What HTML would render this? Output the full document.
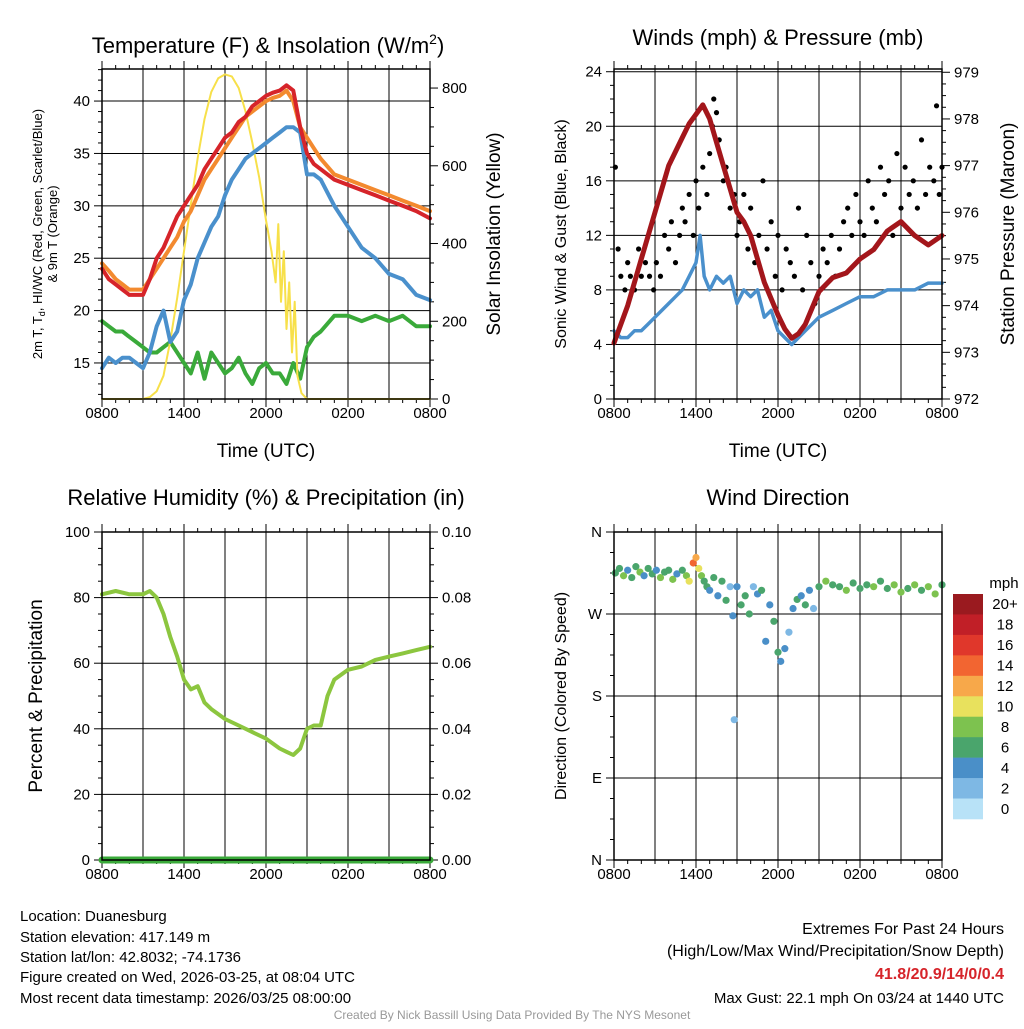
<!DOCTYPE html>
<html><head><meta charset="utf-8"><style>
body{margin:0;background:#fff;width:1024px;height:1024px;overflow:hidden;font-family:"Liberation Sans",sans-serif}
svg text{font-family:"Liberation Sans",sans-serif}
</style></head><body>
<svg id="s" width="1024" height="1024" xmlns="http://www.w3.org/2000/svg"></svg>
<script>
const xTickLabels=["0800","1400","2000","0200","0800"];
const tHours=[0,0.5,1,1.5,2,2.5,3,3.5,4,4.5,5,5.5,6,6.5,7,7.5,8,8.5,9,9.5,10,10.5,11,11.5,12,12.5,13,13.5,14,14.5,15,15.5,16,17,18,19,20,21,22,23,24];
const tempRed=[24,23,22.5,22,21.5,21.5,21.5,23,25,26,27.5,29,30,31,32,33.5,34.5,35.5,36.5,37,38,38.5,39.5,40,40.5,40.8,41,41.5,41,37.5,35,34,33.5,32.5,32,31.5,31,30.5,30,29.5,28.8];
const tempOrange=[24.5,23.8,23,22.5,22,22,22,23,24,25,26,27,28.5,29.5,31,32.5,33.5,34.5,35.5,36.5,37.5,38.5,39,39.5,40,40.3,40.5,41,40,37.5,36.5,35.5,34.5,33,32.5,32,31.5,31,30.5,30,29.5];
const tempDew=[14.5,15.5,15,15.5,15.5,15,14.5,16,18.5,20,17,18,21,22.5,25,26.5,28,29,31,32.5,33.5,34.5,35,35.5,36,36.5,37,37.5,37.5,37,33,33,32.5,30,28,26,25,23.5,23,21.5,21];
const tempHI=[19,18.5,18,18,17.5,17,16.5,16,16,16.5,17,16,15,14,16,13.5,16,15,14,14.5,15.5,14,13,14.5,15,14,14,13,15,13.5,16.5,17.5,18,19.5,19.5,19,19.5,19,19.5,18.5,18.5];
const solarHours=[0,3,3.5,4,4.5,5,5.5,6,6.5,7,7.5,8,8.5,9,9.5,10,10.5,11,11.5,12,12.4,12.7,12.9,13.1,13.3,13.5,13.7,13.9,14.1,14.3,14.6,15,24];
const solarVals=[0,0,5,20,60,150,260,380,500,620,720,790,825,835,830,800,740,660,570,460,380,300,450,250,380,180,300,120,250,60,15,0,0];
const windHours=[0,0.5,1,1.5,2,2.5,3,3.5,4,4.5,5,5.5,6,6.3,6.6,7,7.5,8,8.5,9,9.5,10,10.5,11,11.5,12,12.5,13,13.5,14,14.5,15,16,17,18,19,20,21,22,23,24];
const windSpd=[5,4.5,4.5,5,5,5.5,6,6.5,7,7.5,8,9,10,12,9,8,9,8.5,9,7,8,7.5,8,6,6.5,5,4.5,4,4.5,5,5.5,6,6.5,7,7.5,7.5,8,8,8,8.5,8.5];
const gustHours=[0.1,0.3,0.5,0.8,1,1.2,1.5,1.8,2,2.3,2.6,2.9,3.1,3.4,3.7,4,4.2,4.5,4.8,5,5.2,5.5,5.8,6,6.2,6.5,6.8,7,7.2,7.3,7.5,7.7,8,8.2,8.5,8.8,9,9.2,9.5,9.8,10,10.3,10.6,10.9,11.2,11.5,11.8,12,12.3,12.6,12.9,13.2,13.5,13.8,14.1,14.4,14.7,15,15.3,15.6,15.9,16.2,16.5,16.8,17.1,17.4,17.7,18,18.3,18.6,18.9,19.2,19.5,19.8,20.1,20.4,20.7,21,21.3,21.6,21.9,22.2,22.5,22.8,23.1,23.4,23.6,23.8,24];
const gustVals=[17,11,9,8,10,9,8,11,9,10,9,8,10,9,12,11,13,10,12,14,13,15,12,16,14,17,15,18,20,22,21,19,16,17,14,15,12,13,15,11,14,10,12,16,11,13,9,12,8,11,10,9,14,8,12,10,7,9,11,10,12,9,11,13,14,12,15,13,12,16,14,13,17,15,16,12,18,14,17,15,16,14,19,15,17,16,21.5,15,17];
const presHours=[0,1,2,3,4,5,5.5,6,6.5,7,7.5,8,8.5,9,9.5,10,11,12,12.5,13,13.5,14,15,16,17,18,19,20,21,22,23,24];
const presVals=[973.2,974,975,976,977,977.6,977.9,978.1,978.3,978,977.5,977,976.5,976,975.8,975.5,974.5,973.8,973.5,973.3,973.4,973.6,974.3,974.6,974.7,975,975.2,975.6,975.8,975.5,975.3,975.5];
const rhHours=[0,1,2,3,3.5,4,4.5,5,5.5,6,6.5,7,7.5,8,9,10,11,12,13,13.5,14,14.5,15,15.5,16,16.5,17,18,19,20,21,22,23,24];
const rhVals=[81,82,81,81,82,80,75,68,62,55,52,53,48,46,43,41,39,37,34,33,32,34,40,41,41,50,55,58,59,61,62,63,64,65];
const precipVals=[0,0];
const dirHours=[0.1,0.4,0.7,1,1.3,1.6,1.9,2.2,2.5,2.8,3.1,3.4,3.7,4,4.3,4.6,5,5.3,5.5,5.8,6,6.2,6.4,6.6,6.8,7,7.3,7.6,7.9,8.2,8.5,8.7,8.8,9,9.3,9.6,9.9,10.2,10.5,10.8,11.1,11.4,11.7,12,12.2,12.5,12.8,13.1,13.4,13.7,14,14.3,14.6,15,15.5,16,16.5,17,17.5,18,18.5,19,19.5,20,20.5,21,21.5,22,22.5,23,23.5,24];
const dirDeg=[315,320,312,318,310,322,316,312,320,314,318,310,316,318,308,314,318,312,306,326,332,320,312,306,300,296,310,290,306,285,300,268,154,300,280,290,270,300,292,296,240,280,262,228,218,232,250,276,286,290,280,296,276,300,306,302,300,296,304,298,302,300,306,298,302,294,298,302,296,300,292,302];
const dirSpd=[6,7,8,5,7,6,8,4,6,7,5,9,6,7,8,4,6,9,11,14,12,10,8,7,6,5,7,4,6,6,3,5,2,4,7,6,7,3,5,6,4,5,7,6,5,4,3,5,6,4,7,5,3,6,8,7,6,8,7,6,7,8,7,6,8,9,7,8,7,8,8,7];
const cbLabels=["20+","18","16","14","12","10","8","6","4","2","0"];
const cbColors=["#9a1a1f","#c11f27","#e0372b","#f26531","#f7a84a","#e8e15d","#7dc24f","#4aa56c","#4a8fc8","#7eb8e4","#b8e2f7"];

const S=document.getElementById('s');const NS="http://www.w3.org/2000/svg";
function el(t,a,p){const e=document.createElementNS(NS,t);for(const k in a)e.setAttribute(k,a[k]);(p||S).appendChild(e);return e;}
function txt(x,y,s,size,anchor,extra){const e=el('text',Object.assign({x:x,y:y,'font-size':size,'text-anchor':anchor||'middle',fill:'#000'},extra||{}));e.textContent=s;return e;}
function panel(L,T,W,H,name){
 const g=el('g',{});
 const xs=h=>L+h/24*W;
 for(let i=1;i<8;i++){const x=xs(i*3);el('line',{x1:x,y1:T,x2:x,y2:T+H,stroke:'#000','stroke-width':1},g);}
 for(let i=0;i<=24;i++){const x=xs(i);const len=(i%6==0)?8:4;el('line',{x1:x,y1:T+H,x2:x,y2:T+H+len,stroke:'#000'},g);el('line',{x1:x,y1:T,x2:x,y2:T-len,stroke:'#000'},g);}
 xTickLabels.forEach((l,i)=>{const t=txt(xs(i*6),T+H+19,l,15);});
 return {g,xs};
}
function yaxis(g,L,T,W,H,min,max,major,minor,labels,side,grid){
 const ys=v=>T+H-(v-min)/(max-min)*H;
 const x0=side=='l'?L:L+W,d=side=='l'?-1:1;
 for(let v=Math.ceil(min/minor)*minor;v<=max+1e-9;v+=minor){const isM=Math.abs(v/major-Math.round(v/major))<1e-6;el('line',{x1:x0,y1:ys(v),x2:x0+d*(isM?8:4),y2:ys(v),stroke:'#000'},g);}
 labels.forEach(l=>{const y=ys(l.v);if(grid)el('line',{x1:L,y1:y,x2:L+W,y2:y,stroke:'#000'},g);const t=txt(x0+d*12,y+5,l.s,15,side=='l'?'end':'start');});
 return ys;
}
function poly(g,xs,ys,hs,vs,color,w,name){const p=hs.map((h,i)=>xs(h).toFixed(1)+','+ys(vs[i]).toFixed(1)).join(' ');const e=el('polyline',{points:p,fill:'none',stroke:color,'stroke-width':w,'stroke-linejoin':'round','stroke-linecap':'round'},g);return e;}
function frame(g,L,T,W,H){el('rect',{x:L,y:T,width:W,height:H,fill:'none',stroke:'#000','stroke-width':1.5},g);}

// Panel 1
(function(){const L=102,T=69,W=328,H=330;const {g,xs}=panel(L,T,W,H,'temperature-panel');
 const ys=yaxis(g,L,T,W,H,11.56,43.06,5,1,[15,20,25,30,35,40].map(v=>({v,s:v})),'l',true);
 const ys2=yaxis(g,L,T,W,H,0,849,200,50,[0,200,400,600,800].map(v=>({v,s:v})),'r',false);
 poly(g,xs,ys,tHours,tempHI,'#3aaa3a',4,'heat-index-line');
 poly(g,xs,ys2,solarHours,solarVals,'#f7e04a',2,'solar-insolation-line');
 poly(g,xs,ys,tHours,tempDew,'#4a90cc',4,'dewpoint-line');
 poly(g,xs,ys,tHours,tempOrange,'#f38a2f',4,'9m-temperature-line');
 poly(g,xs,ys,tHours,tempRed,'#d6242a',4,'2m-temperature-line');
 frame(g,L,T,W,H);
 const t=txt(268,53,'Temperature (F) & Insolation (W/m',22);const ts=el('tspan',{'font-size':14,dy:-9},t);ts.textContent='2';const t2=el('tspan',{dy:9},t);t2.textContent=')';
 const a=txt(266,457,'Time (UTC)',19);
 const yl=el('text',{transform:'translate(42,234) rotate(-90)','text-anchor':'middle','font-size':13});yl.innerHTML='<tspan x="0" dy="0">2m T, T<tspan font-size="9" dy="3">d</tspan><tspan dy="-3">, HI/WC (Red, Green, Scarlet/Blue)</tspan></tspan><tspan x="0" dy="15">&amp; 9m T (Orange)</tspan>';
 const yr=el('text',{transform:'translate(500,234) rotate(-90)','text-anchor':'middle','font-size':19});yr.textContent='Solar Insolation (Yellow)';
})();
// Panel 2
(function(){const L=614,T=69,W=328,H=330;const {g,xs}=panel(L,T,W,H,'winds-panel');
 const ys=yaxis(g,L,T,W,H,0,24.2,4,1,[0,4,8,12,16,20,24].map(v=>({v,s:v})),'l',true);
 const ys2=yaxis(g,L,T,W,H,972,979.07,1,0.25,[972,973,974,975,976,977,978,979].map(v=>({v,s:v})),'r',false);
 poly(g,xs,ys,windHours,windSpd,'#4a90cc',3.5,'sustained-wind-line');
 gustHours.forEach((h,i)=>{const c=el('circle',{cx:xs(h),cy:ys(gustVals[i]),r:2.6,fill:'#000'},g);});
 poly(g,xs,ys2,presHours,presVals,'#a3161b',5,'pressure-line');
 frame(g,L,T,W,H);
 const t=txt(778,45,'Winds (mph) & Pressure (mb)',22);
 const a=txt(778,457,'Time (UTC)',19);
 const yl=el('text',{transform:'translate(566,234) rotate(-90)','text-anchor':'middle','font-size':16});yl.textContent='Sonic Wind & Gust (Blue, Black)';
 const yr=el('text',{transform:'translate(1014,234) rotate(-90)','text-anchor':'middle','font-size':19});yr.textContent='Station Pressure (Maroon)';
})();
// Panel 3
(function(){const L=102,T=532,W=328,H=328;const {g,xs}=panel(L,T,W,H,'humidity-panel');
 const ys=yaxis(g,L,T,W,H,0,100,20,5,[0,20,40,60,80,100].map(v=>({v,s:v})),'l',true);
 const ys2=yaxis(g,L,T,W,H,0,0.1,0.02,0.005,[0,0.02,0.04,0.06,0.08,0.1].map(v=>({v,s:v.toFixed(2)})),'r',false);
 poly(g,xs,ys,rhHours,rhVals,'#8cc63f',4,'relative-humidity-line');
 poly(g,xs,ys2,[0,24],precipVals,'#3aaa3a',7,'precipitation-line');
 frame(g,L,T,W,H);
 const t=txt(266,505,'Relative Humidity (%) & Precipitation (in)',22);
 const yl=el('text',{transform:'translate(42,696) rotate(-90)','text-anchor':'middle','font-size':19});yl.textContent='Percent & Precipitation';
})();
// Panel 4
(function(){const L=614,T=532,W=328,H=328;const {g,xs}=panel(L,T,W,H,'wind-direction-panel');
 const ys=v=>T+(360-v)/360*H;
 ["N","W","S","E","N"].forEach((s,i)=>{const y=T+i*H/4;if(i>0&&i<4)el('line',{x1:L,y1:y,x2:L+W,y2:y,stroke:'#000'},g);el('line',{x1:L,y1:y,x2:L-8,y2:y,stroke:'#000'},g);const t=txt(L-12,y+5,s,15,'end');});
 for(let i=0;i<=16;i++){const y=T+i*H/16;el('line',{x1:L,y1:y,x2:L-4,y2:y,stroke:'#000'},g);}
 const col=s=>cbColors[10-Math.min(10,Math.floor(s/2))];
 dirHours.forEach((h,i)=>{const c=el('circle',{cx:xs(h),cy:ys(dirDeg[i]),r:3.6,fill:col(dirSpd[i])},g);});
 frame(g,L,T,W,H);
 const t=txt(778,505,'Wind Direction',22);
 const yl=el('text',{transform:'translate(566,696) rotate(-90)','text-anchor':'middle','font-size':16});yl.textContent='Direction (Colored By Speed)';
 const cb=el('g',{},S);
 const h=225/11;cbColors.forEach((c,i)=>{el('rect',{x:953,y:594+i*h,width:30,height:h+0.3,fill:c},cb);txt(1005,594+i*h+h/2+5,cbLabels[i],15,'middle');});
 txt(1004,588,'mph',15);
})();
// Footer
[['Location: Duanesburg',921],['Station elevation: 417.149 m',942],['Station lat/lon: 42.8032; -74.1736',962],['Figure created on Wed, 2026-03-25, at 08:04 UTC',982],['Most recent data timestamp: 2026/03/25 08:00:00',1003]].forEach(a=>{const t=txt(20,a[1],a[0],15,'start');});
[['Extremes For Past 24 Hours',934],['(High/Low/Max Wind/Precipitation/Snow Depth)',956]].forEach(a=>{const t=txt(1004,a[1],a[0],16,'end');});
const ex=txt(1004,979,'41.8/20.9/14/0/0.4',16,'end',{fill:'#d6242a','font-weight':'bold'});
const mg=txt(1004,1003,'Max Gust: 22.1 mph On 03/24 at 1440 UTC',15,'end');
const cr=txt(512,1019,'Created By Nick Bassill Using Data Provided By The NYS Mesonet',12,'middle',{fill:'#999'});
</script>
</body></html>
